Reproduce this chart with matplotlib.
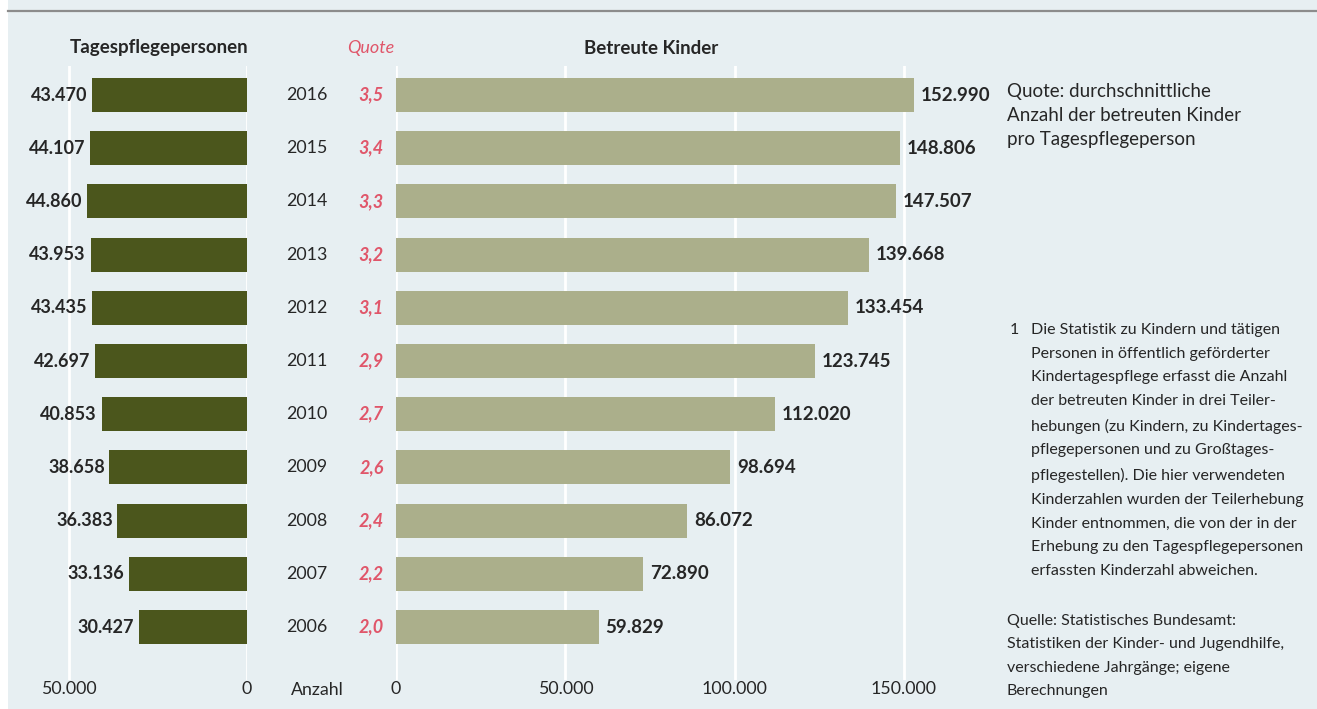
import numpy as np
import matplotlib
matplotlib.use("Agg")
import matplotlib.pyplot as plt
from matplotlib.patches import Rectangle
from matplotlib.lines import Line2D

plt.rcParams['font.family'] = ['Lato', 'DejaVu Sans']

# data (top row first)
years = ['2016', '2015', '2014', '2013', '2012', '2011', '2010', '2009', '2008', '2007', '2006']
personen = [43470, 44107, 44860, 43953, 43435, 42697, 40853, 38658, 36383, 33136, 30427]
quote = ['3,5', '3,4', '3,3', '3,2', '3,1', '2,9', '2,7', '2,6', '2,4', '2,2', '2,0']
kinder = [152990, 148806, 147507, 139668, 133454, 123745, 112020, 98694, 86072, 72890, 59829]
left_ticks = [50000, 0]
right_ticks = [0, 50000, 100000, 150000]

W, H = 1317, 709
BG = '#e7eff2'
DARK = '#4b561c'
LIGHT = '#abaf8b'
RED = '#e0566a'
TXT = '#262626'


def fmt(v):
    return f"{v:,}".replace(",", ".")


def fx(px):
    return px / W


def fy(py):
    return 1 - py / H


fig = plt.figure(figsize=(W / 100, H / 100), dpi=100)
fig.patches.append(Rectangle((fx(8), 0), 1 - fx(8), 1, transform=fig.transFigure,
                             facecolor=BG, edgecolor='none', zorder=-10))
fig.lines.append(Line2D([fx(8), 1], [fy(11), fy(11)], transform=fig.transFigure,
                        color='#8c8c8c', lw=1.6))

row0, step = 95, 53.2
top_px, bot_px = 66, 680
y_top = -(row0 - top_px) / step
y_bot = 10 + (bot_px - (row0 + 10 * step)) / step
ypos = np.arange(len(years))

# left panel: Tagespflegepersonen (0 at px 247, 50.000 at px 69)
la, lb = 20, 247
lscale = 178 / 50000
axl = fig.add_axes([fx(la), fy(bot_px), fx(lb - la), (bot_px - top_px) / H])
axl.set_xlim((lb - la) / lscale, 0)
axl.set_ylim(y_bot, y_top)
axl.barh(ypos, personen, height=0.64, color=DARK, zorder=2)
for y, v in zip(ypos, personen):
    axl.text(v + 1300, y, fmt(v), ha='right', va='center', fontsize=13,
             fontweight='bold', color=TXT)

# right panel: Betreute Kinder (0 at px 396, 150.000 at px 904)
ra, rb = 396, 995
rscale = 508 / 150000
axr = fig.add_axes([fx(ra), fy(bot_px), fx(rb - ra), (bot_px - top_px) / H])
axr.set_xlim(0, (rb - ra) / rscale)
axr.set_ylim(y_bot, y_top)
axr.barh(ypos, kinder, height=0.64, color=LIGHT, zorder=2)
for y, v in zip(ypos, kinder):
    axr.text(v + 2000, y, fmt(v), ha='left', va='center', fontsize=13.5,
             fontweight='bold', color=TXT)

for ax, ticks in ((axl, left_ticks), (axr, right_ticks)):
    ax.set_facecolor('none')
    for s in ax.spines.values():
        s.set_visible(False)
    ax.set_yticks([])
    ax.set_xticks(ticks)
    ax.set_xticklabels([fmt(t) for t in ticks])
    ax.tick_params(axis='x', length=0, pad=1, labelsize=12.8, labelcolor=TXT)
    ax.grid(axis='x', color='white', lw=2, zorder=1)
    ax.set_axisbelow(True)

# years and quote in the middle
for y, yr, q in zip(ypos, years, quote):
    py = row0 + y * step
    fig.text(fx(307), fy(py), yr, ha='center', va='center', fontsize=12.8, color=TXT)
    fig.text(fx(384), fy(py), q, ha='right', va='center', fontsize=13,
             fontweight='bold', style='italic', color=RED)

# headers
fig.text(fx(159), fy(48), 'Tagespflegepersonen', ha='center', va='center',
         fontsize=13.5, fontweight='bold', color=TXT)
fig.text(fx(371), fy(48), 'Quote', ha='center', va='center', fontsize=13,
         style='italic', color=RED)
fig.text(fx(651), fy(48), 'Betreute Kinder', ha='center', va='center',
         fontsize=13.5, fontweight='bold', color=TXT)
fig.text(fx(317), fy(690), 'Anzahl', ha='center', va='center', fontsize=12.8, color=TXT)

# notes on the right
fig.text(fx(1007), fy(83), 'Quote: durchschnittliche\nAnzahl der betreuten Kinder\npro Tagespflegeperson',
         ha='left', va='top', fontsize=13.5, color=TXT, linespacing=1.5)
fig.text(fx(1010), fy(323), '1', ha='left', va='top', fontsize=11.5, color=TXT)
note = ('Die Statistik zu Kindern und tätigen\nPersonen in öffentlich geförderter\n'
        'Kindertagespflege erfasst die Anzahl\nder betreuten Kinder in drei Teiler-\n'
        'hebungen (zu Kindern, zu Kindertages-\npflegepersonen und zu Großtages-\n'
        'pflegestellen). Die hier verwendeten\nKinderzahlen wurden der Teilerhebung\n'
        'Kinder entnommen, die von der in der\nErhebung zu den Tagespflegepersonen\n'
        'erfassten Kinderzahl abweichen.')
fig.text(fx(1031), fy(323), note, ha='left', va='top', fontsize=11.5, color=TXT,
         linespacing=1.88)
src = ('Quelle: Statistisches Bundesamt:\nStatistiken der Kinder- und Jugendhilfe,\n'
       'verschiedene Jahrgänge; eigene\nBerechnungen')
fig.text(fx(1007), fy(614), src, ha='left', va='top', fontsize=11.5, color=TXT,
         linespacing=1.85)

fig.savefig('out.png', dpi=100)
